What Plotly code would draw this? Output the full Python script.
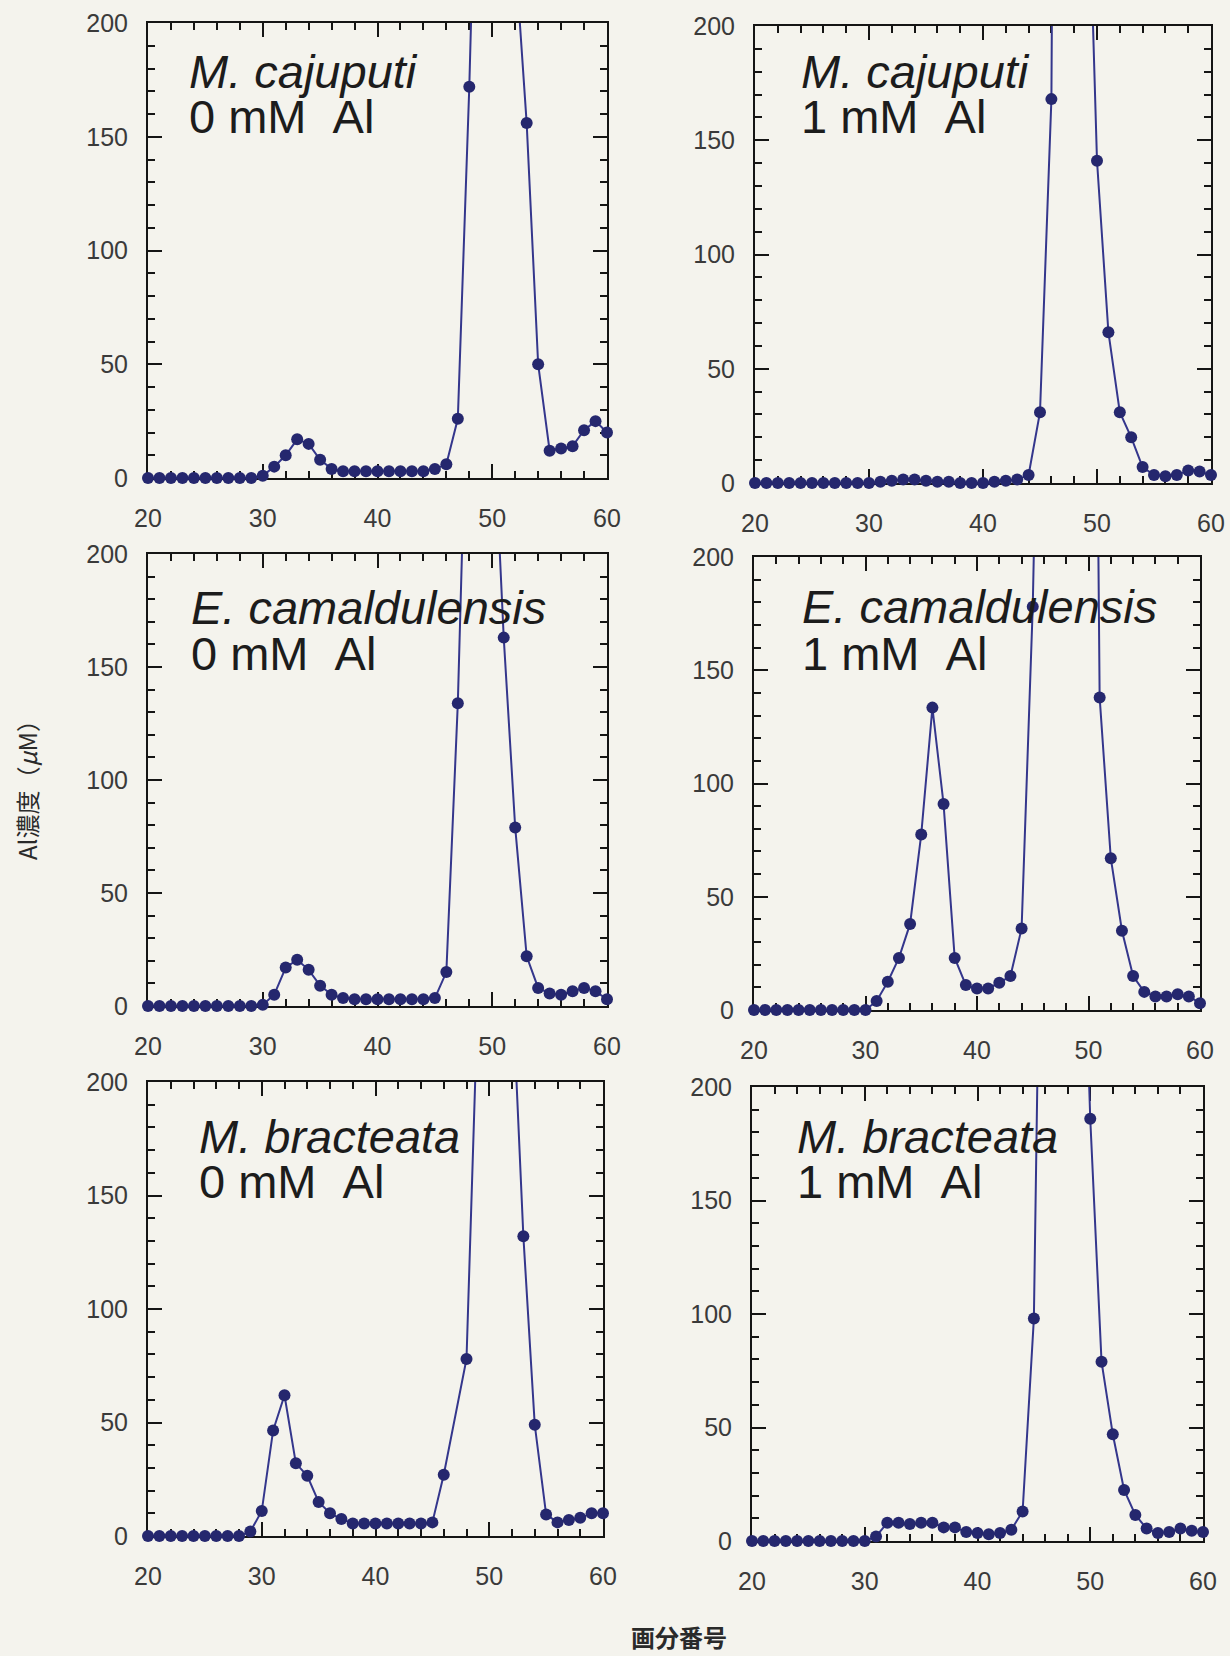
import plotly.graph_objects as go

# ---------------- data ----------------
fractions = list(range(20, 61))

# M. cajuputi, 0 mM Al
mc0 = [0, 0, 0, 0, 0, 0, 0, 0, 0, 0,
       1, 5, 10, 17, 15, 8, 4, 3, 3, 3,
       3, 3, 3, 3, 3, 4, 6, 26, 172, 360,
       600, 500, 230, 156, 50, 12, 13, 14, 21, 25,
       20]
# M. cajuputi, 1 mM Al
mc1 = [0, 0, 0, 0, 0, 0, 0, 0, 0, 0,
       0, 0.5, 1, 1.5, 1.5, 1, 0.5, 0.5, 0, 0,
       0, 0.5, 1, 1.5, 3.5, 31, 168, 1000, 900, 310,
       141, 66, 31, 20, 7, 3.5, 3, 3.5, 5.5, 5,
       3.5]
# E. camaldulensis, 0 mM Al
ec0 = [0, 0, 0, 0, 0, 0, 0, 0, 0, 0,
       0.5, 5, 17, 20.5, 16, 9, 5, 3.5, 3, 3,
       3, 3, 3, 3, 3, 3.5, 15, 134, 284, 500,
       272, 163, 79, 22, 8, 5.5, 5, 6.5, 8, 6.5,
       3]
# E. camaldulensis, 1 mM Al
ec1 = [0, 0, 0, 0, 0, 0, 0, 0, 0, 0,
       0, 4, 12.5, 23, 38, 77.5, 133.5, 91, 23, 11,
       9.5, 9.5, 12, 15, 36, 178, 700, 900, 900, 800,
       700, 138, 67, 35, 15, 8, 6, 6, 7, 6,
       3]
# M. bracteata, 0 mM Al
mb0 = [0, 0, 0, 0, 0, 0, 0, 0, 0, 2,
       11, 46.5, 62, 32, 26.5, 15, 10, 7.5, 5.5, 5.5,
       5.5, 5.5, 5.5, 5.5, 5.5, 6, 27, None, 78, 238,
       500, 500, 245, 132, 49, 9.5, 6, 7, 8, 10,
       10]
# M. bracteata, 1 mM Al
mb1 = [0, 0, 0, 0, 0, 0, 0, 0, 0, 0,
       0, 2, 8, 8, 7.5, 8, 8, 6, 6, 4,
       3.5, 3, 3.5, 5, 13, 98, 438, 900, 900, 340,
       186, 79, 47, 22.5, 11.5, 5.5, 3.5, 4, 5.5, 4.5,
       4]

species = ["M. cajuputi", "M. cajuputi",
           "E. camaldulensis", "E. camaldulensis",
           "M. bracteata", "M. bracteata"]
treatments = ["0 mM\u00a0\u00a0Al", "1 mM\u00a0\u00a0Al",
              "0 mM\u00a0\u00a0Al", "1 mM\u00a0\u00a0Al",
              "0 mM\u00a0\u00a0Al", "1 mM\u00a0\u00a0Al"]
series = [mc0, mc1, ec0, ec1, mb0, mb1]

x_ticks = [20, 30, 40, 50, 60]
y_ticks = [0, 50, 100, 150, 200]
y_title = "Al濃度（<i>μ</i>M）"
x_title = "<b>画分番号</b>"

# ---------------- layout / style ----------------
W, H = 1230, 1656

def px(x):
    return x / W

def py(y):
    return 1 - y / H

# panel frames in page pixels: (x0, x1), (y0 top, y1 bottom)
frames = [((148, 607), (23, 478)), ((755, 1211), (26, 483)),
          ((148, 607), (554, 1006)), ((754, 1200), (557, 1010)),
          ((148, 603), (1082, 1536)), ((752, 1203), (1087, 1541))]
# label placement inside each panel (data coords): x, y line 1, y line 2
label_pos = [(23.4, 178.6, 159.0), (23.9, 180.0, 160.5),
             (23.6, 176.3, 156.0), (24.1, 178.1, 157.3),
             (24.3, 175.8, 156.0), (23.85, 178.1, 158.2)]

BG = "#f4f3ed"
LINE_C = "#34368c"
MARK_C = "#25276e"
AX_C = "#151515"
TICK_FONT = dict(family="Liberation Sans, Arial, sans-serif", size=25, color="#3a3a3a")
ANN_FONT = dict(family="Liberation Sans, Arial, sans-serif", size=47, color="#1c1c1c")

fig = go.Figure()
annotations = []

for i, vals in enumerate(series):
    sfx = "" if i == 0 else str(i + 1)
    xa, ya = "x" + sfx, "y" + sfx
    fig.add_trace(go.Scatter(
        x=fractions, y=vals, mode="lines", connectgaps=True,
        line=dict(color=LINE_C, width=2), cliponaxis=True,
        xaxis=xa, yaxis=ya, hoverinfo="skip", showlegend=False))
    mx = [x for x, v in zip(fractions, vals) if v is not None and v <= 200]
    my = [v for v in vals if v is not None and v <= 200]
    fig.add_trace(go.Scatter(
        x=mx, y=my, mode="markers",
        marker=dict(color=MARK_C, size=12), cliponaxis=False,
        xaxis=xa, yaxis=ya, showlegend=False))

    (fx0, fx1), (fy0, fy1) = frames[i]
    fig.layout["xaxis" + sfx] = dict(
        domain=[px(fx0), px(fx1)], anchor=ya, range=[20, 60],
        tickmode="array", tickvals=x_ticks, automargin=False,
        showline=True, linecolor=AX_C, linewidth=2, mirror="ticks",
        ticks="inside", ticklen=14, tickwidth=2, tickcolor=AX_C,
        minor=dict(ticks="inside", dtick=2, tick0=20, ticklen=7,
                   tickwidth=1.5, tickcolor=AX_C, showgrid=False),
        tickfont=TICK_FONT, ticklabelstandoff=17,
        showgrid=False, zeroline=False, layer="below traces")
    fig.layout["yaxis" + sfx] = dict(
        domain=[py(fy1), py(fy0)], anchor=xa, range=[0, 200],
        tickmode="array", tickvals=y_ticks, automargin=False,
        showline=True, linecolor=AX_C, linewidth=2, mirror="ticks",
        ticks="inside", ticklen=14, tickwidth=2, tickcolor=AX_C,
        minor=dict(ticks="inside", dtick=10, tick0=0, ticklen=7,
                   tickwidth=1.5, tickcolor=AX_C, showgrid=False),
        tickfont=TICK_FONT, ticklabelstandoff=13,
        showgrid=False, zeroline=False, layer="below traces")

    lx, ly1, ly2 = label_pos[i]
    annotations.append(dict(
        xref=xa, yref=ya, x=lx, y=ly1, xanchor="left", yanchor="middle",
        text="<i>" + species[i] + "</i>", showarrow=False, font=ANN_FONT))
    annotations.append(dict(
        xref=xa, yref=ya, x=lx, y=ly2, xanchor="left", yanchor="middle",
        text=treatments[i], showarrow=False, font=ANN_FONT))

annotations.append(dict(
    xref="paper", yref="paper", x=px(26), y=py(784),
    xanchor="center", yanchor="middle", textangle=-90,
    text=y_title, showarrow=False,
    font=dict(family="Noto Sans CJK JP, sans-serif", size=24, color="#2a2a2a")))
annotations.append(dict(
    xref="paper", yref="paper", x=px(679), y=py(1656),
    xanchor="center", yanchor="bottom",
    text=x_title, showarrow=False,
    font=dict(family="Noto Sans CJK JP, sans-serif", size=24, color="#2a2a2a")))

fig.update_layout(
    width=W, height=H, margin=dict(l=0, r=0, t=0, b=0, autoexpand=False),
    paper_bgcolor=BG, plot_bgcolor=BG,
    annotations=annotations, showlegend=False)

fig.write_html(
    "out.html", config={"displayModeBar": False},
    post_script="document.body.style.margin='0';"
                "document.body.style.background='%s';" % BG)
